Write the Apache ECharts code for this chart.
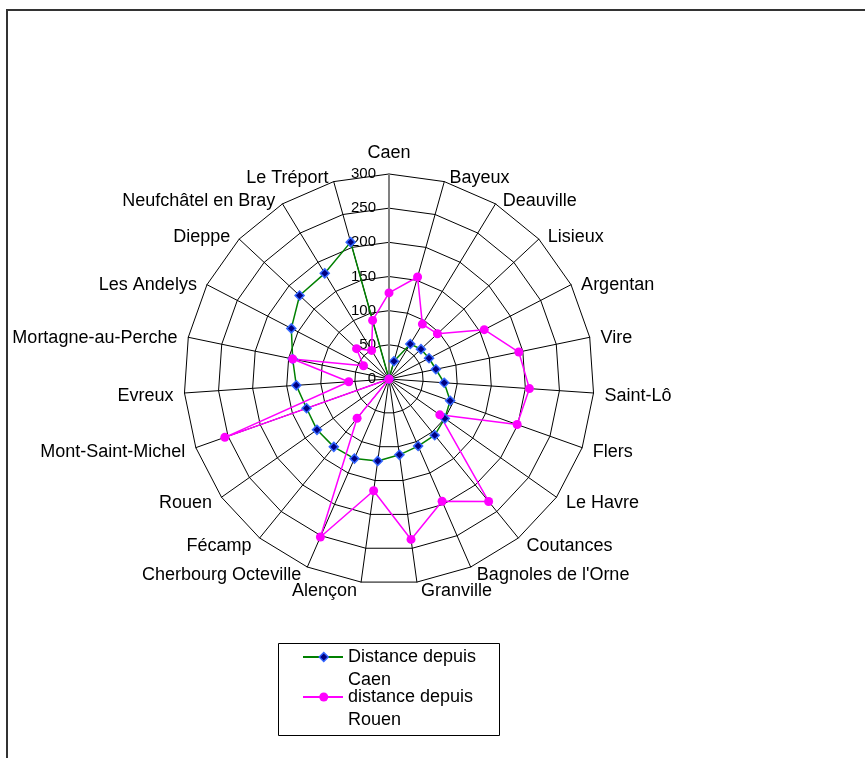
<!DOCTYPE html>
<html>
<head>
<meta charset="utf-8">
<script src="https://cdn.jsdelivr.net/npm/echarts@6/dist/echarts.min.js"></script>
<style>
html,body{margin:0;padding:0;background:#fff;}
#chart{width:865px;height:758px;}
</style>
</head>
<body>
<div id="chart"></div>
<script>
const categories = ['Caen','Bayeux','Deauville','Lisieux','Argentan','Vire','Saint-Lô','Flers','Le Havre','Coutances',"Bagnoles de l'Orne",'Granville','Alençon','Cherbourg Octeville','Fécamp','Rouen','Mont-Saint-Michel','Evreux','Mortagne-au-Perche','Les Andelys','Dieppe','Neufchâtel en Bray','Le Tréport'];
const distCaen  = [0,27,60,64,66,70,81,95,100,106,107,112,121,127,128,129,128,136,144,161,179,181,208];
const distRouen = [126,155,94,97,157,194,206,199,91,231,195,237,165,252,74,0,255,59,144,42,65,49,89];
const seriesNames = ['Distance depuis Caen','distance depuis Rouen'];
const axisMax = 300;
const axisStep = 50;

const FONT = "'Liberation Sans', Arial, sans-serif";
const n = categories.length;
// ECharts radar runs counter-clockwise; reorder so the categories run clockwise like the original
const order = categories.map((_, i) => (n - i) % n);

// Spreadsheet-like placement of category names around the web
function nameGeom(k) {               // k = index in categories (clockwise from top)
  const a = 2 * Math.PI * k / n;
  const s = Math.sin(a), c = Math.cos(a);
  return { s: s, ex: 3 + 8 * Math.abs(s), ey: 2.5 - 6.5 * c };
}

const indicators = order.map((k, j) => {
  const g = nameGeom(k);
  const ind = { name: categories[k], max: axisMax, min: 0 };
  if (k === 0) {
    ind.nameTextStyle = { padding: [0, 0, 12, 0] };
    ind.axisLabel = { show: true, fontSize: 15, color: '#000', fontFamily: FONT, margin: 13 };
    ind.axisLine = { lineStyle: { color: '#808080', width: 2 } };
  } else {
    const pad = g.s > 0 ? [0, 0, 0, g.ex] : [0, g.ex, 0, 0];
    ind.nameTextStyle = { padding: pad };
    if (Math.abs(g.ey) >= 0.5) ind.nameTextStyle.lineHeight = 2 * Math.abs(g.ey);
  }
  return ind;
});
const vCaen = order.map(k => distCaen[k]);
const vRouen = order.map(k => distRouen[k]);

function nameFormatter(name) {
  const k = categories.indexOf(name);
  if (k <= 0) return name;
  const g = nameGeom(k);
  if (Math.abs(g.ey) < 0.5) return name;
  return g.ey > 0 ? '\u00a0\n' + name : name + '\n\u00a0';
}

const legendFormatter = name => '\u00a0\n' + name.replace(/ (\S+)$/, '\n$1');
const legendText = { fontSize: 18, fontFamily: FONT, color: '#000', lineHeight: 23 };

const chart = echarts.init(document.getElementById('chart'), null, { renderer: 'canvas' });
chart.setOption({
  animation: false,
  backgroundColor: '#fff',
  textStyle: { fontFamily: FONT },
  graphic: [
    { type: 'rect', shape: { x: 7, y: 10, width: 1000, height: 1000 }, style: { fill: 'none', stroke: '#333', lineWidth: 2 }, silent: true },
    { type: 'rect', shape: { x: 278.5, y: 643.5, width: 221, height: 92 }, style: { fill: 'none', stroke: '#000', lineWidth: 1 }, silent: true }
  ],
  radar: {
    center: [389, 379],
    radius: 205,
    startAngle: 90,
    splitNumber: axisMax / axisStep,
    shape: 'polygon',
    nameGap: 0,
    axisName: { color: '#000', fontSize: 18, fontFamily: FONT, formatter: nameFormatter },
    axisLine: { show: true, lineStyle: { color: '#000', width: 1 } },
    axisTick: { show: false },
    axisLabel: { show: false },
    splitLine: { lineStyle: { color: '#000', width: 1 } },
    splitArea: { show: false },
    indicator: indicators
  },
  legend: [
    {
      orient: 'vertical', left: 303, top: 622.5, padding: 0, itemGap: -29,
      itemWidth: 40, itemHeight: 2,
      data: [
        { name: seriesNames[0], icon: 'rect', itemStyle: { color: '#008000', borderWidth: 0 } },
        { name: seriesNames[1], icon: 'rect', itemStyle: { color: '#FF00FF', borderWidth: 0 } }
      ],
      formatter: legendFormatter,
      textStyle: legendText
    },
    {
      orient: 'vertical', left: 318.5, top: 622.5, padding: 0, itemGap: -29,
      itemWidth: 9, itemHeight: 9,
      data: [
        { name: seriesNames[0], icon: 'diamond', itemStyle: { color: '#000080', borderColor: '#3366FF', borderWidth: 1.5 } },
        { name: seriesNames[1], icon: 'circle', itemStyle: { color: '#FF00FF', borderWidth: 0 } }
      ],
      formatter: legendFormatter,
      textStyle: Object.assign({}, legendText, { color: 'rgba(0,0,0,0)' })
    }
  ],
  series: [
    {
      type: 'radar',
      symbol: 'diamond',
      symbolSize: 9,
      itemStyle: { color: '#000080', borderColor: '#3366FF', borderWidth: 1.5 },
      lineStyle: { color: '#008000', width: 1.5 },
      data: [{ name: seriesNames[0], value: vCaen }]
    },
    {
      type: 'radar',
      symbol: 'circle',
      symbolSize: 9,
      itemStyle: { color: '#FF00FF' },
      lineStyle: { color: '#FF00FF', width: 1.5 },
      data: [{ name: seriesNames[1], value: vRouen }]
    }
  ]
});
</script>
</body>
</html>
